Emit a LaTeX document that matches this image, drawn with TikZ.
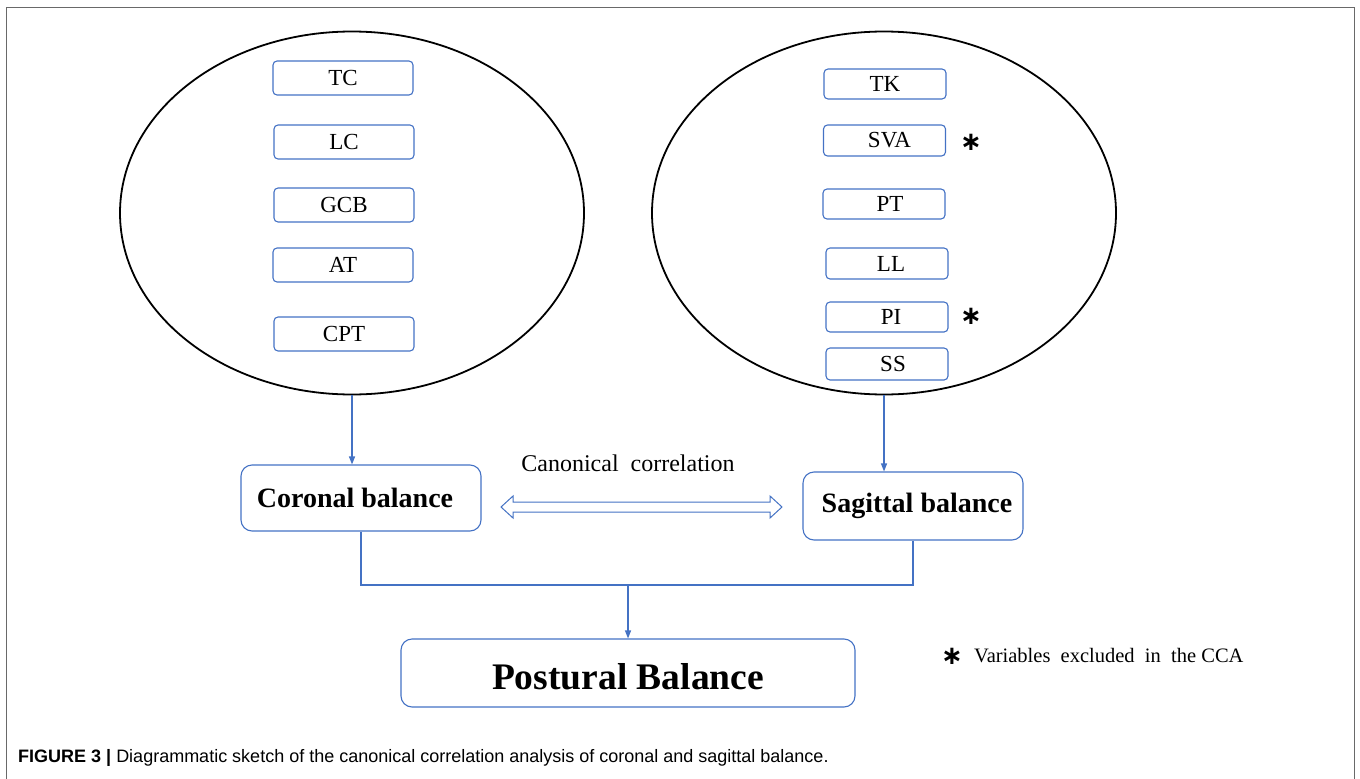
\documentclass[tikz,border=0pt]{standalone}
\usepackage{fontspec}
\setmainfont{Liberation Serif}
\newfontfamily\capfont{Liberation Sans}
\newfontfamily\starfont{DejaVu Sans}
\usetikzlibrary{shapes.geometric,arrows.meta,calc}
\definecolor{boxblue}{RGB}{68,114,196}
\definecolor{framegray}{RGB}{105,105,105}
\begin{document}
\begin{tikzpicture}[x=1pt,y=-1pt,
  varbox/.style={draw=boxblue, line width=1.1pt, rounded corners=4pt, inner sep=0pt,
     font=\fontsize{23}{23}\selectfont},
  lbox/.style={varbox, minimum width=140pt, minimum height=34pt},
  rbox/.style={varbox, minimum width=122pt, minimum height=31pt},
  bigbox/.style={draw=boxblue, line width=1.1pt, rounded corners=11pt, inner sep=0pt},
  group/.style={draw=black, line width=1.8pt, ellipse, inner sep=0pt,
     minimum width=464pt, minimum height=363pt},
  link/.style={draw=boxblue, line width=1.2pt},
  tip/.style={-{Triangle[length=8pt,width=6pt]}},
  star/.style={inner sep=0pt, font=\starfont\bfseries\fontsize{26}{26}\selectfont},
]
\useasboundingbox (0,0) rectangle (1360,779);
% frame
\draw[framegray, line width=1pt] (6,780) -- (6,7) -- (1354,7) -- (1354,780);

% ellipses
\node[group] (L) at (352,213) {};
\node[group] (R) at (884,213) {};

% coronal variables
\node[lbox] (tc)  at (343,78)  {TC};
\node[lbox] (lc)  at (344,142) {LC};
\node[lbox] (gcb) at (344,205) {GCB};
\node[lbox] (at)  at (343,265) {AT};
\node[lbox] (cpt) at (344,334) {CPT};

% sagittal variables
\node[rbox, minimum height=30pt] (tk)  at (885,84)    {TK};
\node[rbox] (sva) at (884.5,140.5) {\hspace*{10pt}SVA};
\node[rbox, minimum height=30pt] (pt)  at (884,204)   {\hspace*{12pt}PT};
\node[rbox] (ll)  at (887,263.5) {\hspace*{8pt}LL};
\node[rbox, minimum height=30pt] (pi)  at (887,317)   {\hspace*{8pt}PI};
\node[rbox, minimum height=32pt] (ss)  at (887,364)   {\hspace*{12pt}SS};
\node[star] (s1) at (971,142) {∗};
\node[star] (s2) at (971,316) {∗};

% balance boxes
\node[bigbox, minimum width=240pt, minimum height=66pt] (cor) at (361,498)
  {\fontsize{28}{28}\selectfont\bfseries Coronal balance\hspace*{12pt}};
\node[bigbox, minimum width=220pt, minimum height=68pt] (sag) at (913,506)
  {\hspace*{8pt}\fontsize{28}{28}\selectfont\bfseries Sagittal balance};
\node[bigbox, minimum width=454pt, minimum height=68pt] (pos) at (628,673)
  {\raisebox{-4pt}[\height][\depth]{\fontsize{37.5}{37.5}\selectfont\bfseries Postural Balance}};

% arrows from groups
\draw[link, tip] (L.south) -- (L.south |- cor.north);
\draw[link, tip] (R.south) -- (R.south |- sag.north);

% merge lines
\coordinate (j) at (628,585);
\draw[link] (cor.south) |- (j) -| (sag.south);
\draw[link, tip] (j) -- (pos.north);

% canonical correlation double arrow
\node[font=\fontsize{24}{24}\selectfont] (cc) at (628,463) {Canonical\ \ correlation};
\coordinate (cl) at (501,507);
\coordinate (cr) at (782,507);
\draw[boxblue, line width=1pt, fill=white]
  (cl) -- ($(cl)+(12,-11)$) -- ($(cl)+(12,-5)$) -- ($(cr)+(-12,-5)$) -- ($(cr)+(-12,-11)$)
  -- (cr) -- ($(cr)+(-12,11)$) -- ($(cr)+(-12,5)$) -- ($(cl)+(12,5)$) -- ($(cl)+(12,11)$) -- cycle;

% legend
\node[star] (s3) at (952,656) {∗};
\node[anchor=west, inner sep=0pt, font=\fontsize{20.5}{20.5}\selectfont] (leg) at (974,656)
  {Variables\ \ excluded\ \ in\ \ the CCA};

% caption
\node[anchor=base west, inner sep=0pt] (cap) at (18,762)
  {\capfont\fontsize{18}{21}\selectfont\textbf{FIGURE 3 |} Diagrammatic sketch of the canonical correlation analysis of coronal and sagittal balance.};
\end{tikzpicture}
\end{document}
